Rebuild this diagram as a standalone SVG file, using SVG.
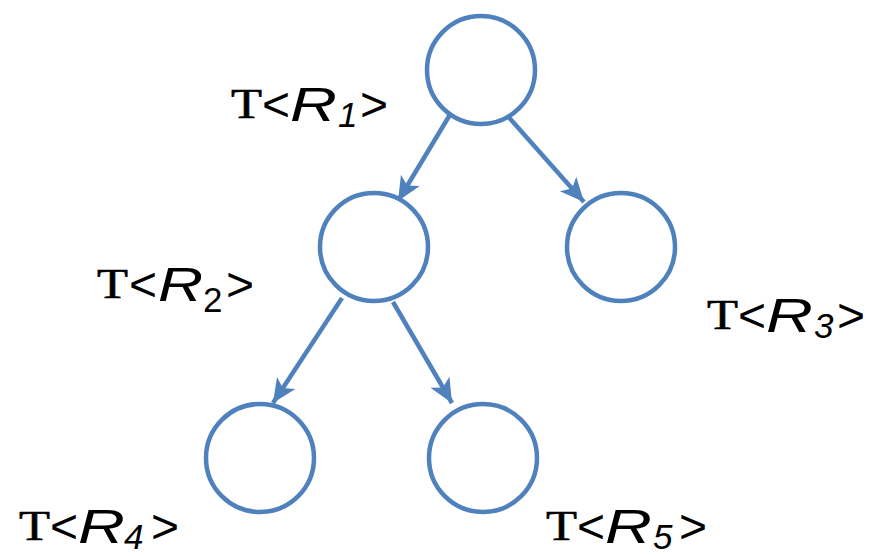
<svg xmlns="http://www.w3.org/2000/svg" width="882" height="556" viewBox="0 0 882 556">
<style>
.node{fill:#fff;stroke:#4F81BD;stroke-width:4.5}
.edge{stroke:#4F81BD;stroke-width:4.5;fill:none}
.lbl{font-family:"Liberation Sans",Arial,sans-serif;font-size:48px;fill:#000}
.t{font-family:"Liberation Serif","Courier New",serif;font-size:42px;fill:#000;stroke:#000;stroke-width:0.6}
.it{font-style:italic}
.sub{font-family:"Liberation Sans",Arial,sans-serif;font-style:italic;font-size:35px;fill:#000}
</style>
<defs>
<marker id="ah" markerUnits="userSpaceOnUse" markerWidth="26" markerHeight="26" viewBox="0 0 26 26" refX="24" refY="13" orient="auto">
<path d="M0,2 L24,13 L0,24 L6,13 Z" fill="#4F81BD"/>
</marker>
</defs>
<g id="connectors">
<line class="edge" x1="451" y1="113" x2="398" y2="201" marker-end="url(#ah)"/>
<line class="edge" x1="505" y1="113" x2="584" y2="202" marker-end="url(#ah)"/>
<line class="edge" x1="342" y1="298" x2="273" y2="403" marker-end="url(#ah)"/>
<line class="edge" x1="393" y1="302" x2="452" y2="403" marker-end="url(#ah)"/>
</g>
<g id="n1"><circle class="node" cx="481" cy="70" r="54"/>
<g transform="translate(232,121)"><text class="t" x="-1" y="-3" textLength="31" lengthAdjust="spacingAndGlyphs">T</text><text class="lbl" x="30" y="0">&lt;</text><text class="lbl it" transform="translate(58,0) scale(1.35,1)">R</text><text class="sub" x="106" y="6">1</text><text class="lbl" x="128" y="0">&gt;</text></g></g>
<g id="n2"><circle class="node" cx="374" cy="247" r="54"/>
<g transform="translate(98,301)"><text class="t" x="-1" y="-3" textLength="31" lengthAdjust="spacingAndGlyphs">T</text><text class="lbl" x="31" y="0">&lt;</text><text class="lbl it" transform="translate(60,0) scale(1.3,1)">R</text><text class="sub" x="105" y="11" style="font-style:normal">2</text><text class="lbl" x="128" y="0">&gt;</text></g></g>
<g id="n3"><circle class="node" cx="621" cy="247" r="54"/>
<g transform="translate(708,332)"><text class="t" x="-1" y="-3" textLength="31" lengthAdjust="spacingAndGlyphs">T</text><text class="lbl" x="30" y="0">&lt;</text><text class="lbl it" transform="translate(58,0) scale(1.35,1)">R</text><text class="sub" x="106" y="6">3</text><text class="lbl" x="129" y="0">&gt;</text></g></g>
<g id="n4"><circle class="node" cx="260" cy="458" r="54"/>
<g transform="translate(20,543)"><text class="t" x="-1" y="-3" textLength="31" lengthAdjust="spacingAndGlyphs">T</text><text class="lbl" x="30" y="0">&lt;</text><text class="lbl it" transform="translate(58,0) scale(1.35,1)">R</text><text class="sub" x="104" y="6">4</text><text class="lbl" x="131" y="0">&gt;</text></g></g>
<g id="n5"><circle class="node" cx="483" cy="458" r="54"/>
<g transform="translate(547,543)"><text class="t" x="-1" y="-3" textLength="31" lengthAdjust="spacingAndGlyphs">T</text><text class="lbl" x="30" y="0">&lt;</text><text class="lbl it" transform="translate(58,0) scale(1.35,1)">R</text><text class="sub" x="106" y="6">5</text><text class="lbl" x="132" y="0">&gt;</text></g></g>
</svg>
